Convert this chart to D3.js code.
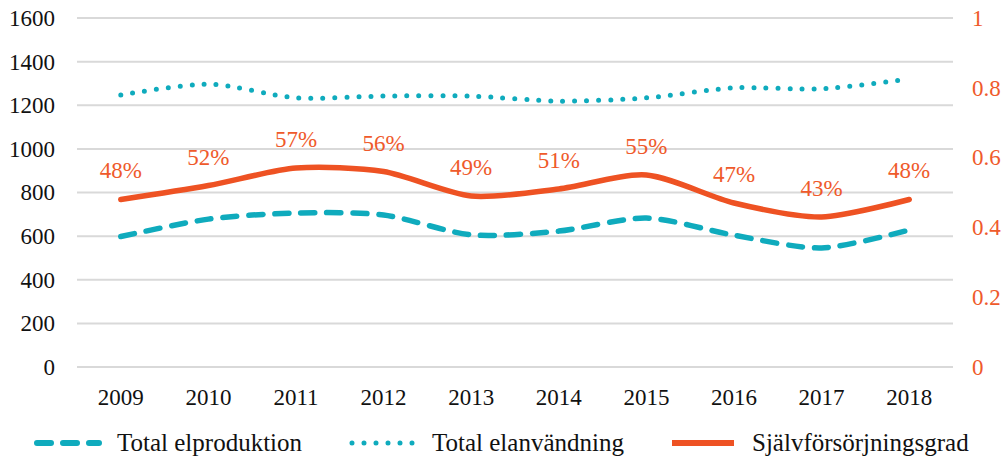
<!DOCTYPE html>
<html>
<head>
<meta charset="utf-8">
<script src="https://cdn.jsdelivr.net/npm/d3@7"></script>
</head>
<body style="margin:0">
<script>
// data
var years = ["2009", "2010", "2011", "2012", "2013", "2014", "2015", "2016", "2017", "2018"];
var elproduktion = [598, 678, 706, 697, 606, 623, 683, 604, 546, 628];
var elanvandning = [1247, 1297, 1234, 1242, 1242, 1219, 1234, 1280, 1275, 1320];
var sjalvforsorjning = [0.48, 0.52, 0.57, 0.56, 0.49, 0.51, 0.55, 0.47, 0.43, 0.48];
var leftTicks = [0, 200, 400, 600, 800, 1000, 1200, 1400, 1600];
var rightTicks = [0, 0.2, 0.4, 0.6, 0.8, 1];

var teal = "#0fabbd", orange = "#ee5223", labelOrange = "#ef5a2b";

var width = 1006, height = 456;
var margin = {top: 18, right: 53, bottom: 89, left: 77};
var w = width - margin.left - margin.right,
    h = height - margin.top - margin.bottom;

var svg = d3.select("body").append("svg")
    .attr("width", width)
    .attr("height", height);
var g = svg.append("g")
    .attr("transform", "translate(" + margin.left + "," + margin.top + ")");

var x = d3.scaleBand().domain(years).range([0, w]);
var y = d3.scaleLinear().domain([0, 1600]).range([h, 0]);
var y2 = d3.scaleLinear().domain([0, 1]).range([h, 0]);
var cx = function(d, i) { return x(years[i]) + x.bandwidth() / 2; };

// gridlines
g.selectAll(".grid").data(leftTicks).enter().append("line")
    .attr("x1", 0).attr("x2", w)
    .attr("y1", function(d) { return y(d); })
    .attr("y2", function(d) { return y(d); })
    .attr("stroke", "#d9d9d9")
    .attr("stroke-width", 2);

// left axis
var yAxis = d3.axisLeft(y).tickValues(leftTicks).tickSize(0).tickPadding(22)
    .tickFormat(function(d) { return String(d); });
var gy = g.append("g").call(yAxis);
gy.select(".domain").remove();
gy.selectAll("text").attr("fill", "#111");

// right axis
var yAxis2 = d3.axisRight(y2).tickValues(rightTicks).tickSize(0).tickPadding(19)
    .tickFormat(function(d) { return String(d); });
var gy2 = g.append("g").attr("transform", "translate(" + w + ",0)").call(yAxis2);
gy2.select(".domain").remove();
gy2.selectAll("text").attr("fill", labelOrange);

// x axis
var xAxis = d3.axisBottom(x).tickSize(0).tickPadding(22);
var gx = g.append("g").attr("transform", "translate(0," + h + ")").call(xAxis);
gx.select(".domain").remove();
gx.selectAll("text").attr("fill", "#111");

var curve = d3.curveCardinal.tension(0.2);

var lineLeft = d3.line().x(cx).y(function(d) { return y(d); }).curve(curve);
var lineRight = d3.line().x(cx).y(function(d) { return y2(d); }).curve(curve);

g.append("path")
    .attr("d", lineLeft(elanvandning))
    .attr("fill", "none")
    .attr("stroke", teal)
    .attr("stroke-width", 5)
    .attr("stroke-linecap", "round")
    .attr("stroke-dasharray", "0,12");

g.append("path")
    .attr("d", lineLeft(elproduktion))
    .attr("fill", "none")
    .attr("stroke", teal)
    .attr("stroke-width", 5.5)
    .attr("stroke-linecap", "round")
    .attr("stroke-dasharray", "14,12");

g.append("path")
    .attr("d", lineRight(sjalvforsorjning))
    .attr("fill", "none")
    .attr("stroke", orange)
    .attr("stroke-width", 5.5)
    .attr("stroke-linecap", "round");

// data labels
g.selectAll(".lbl").data(sjalvforsorjning).enter().append("text")
    .attr("x", cx)
    .attr("y", function(d) { return y2(d) - 21; })
    .attr("text-anchor", "middle")
    .attr("fill", labelOrange)
    .text(function(d) { return Math.round(d * 100) + "%"; });

// legend
var legend = [
    {label: "Total elproduktion", x: 35, dash: "14,12", color: teal, cap: "round"},
    {label: "Total elanvändning", x: 350, dash: "0,12", color: teal, cap: "round"},
    {label: "Självförsörjningsgrad", x: 670, dash: null, color: orange, cap: "butt"}
];
var lg = svg.append("g").attr("transform", "translate(0,443)");
legend.forEach(function(d) {
    lg.append("line")
        .attr("x1", d.x + 2).attr("x2", d.x + 64)
        .attr("y1", 0).attr("y2", 0)
        .attr("stroke", d.color)
        .attr("stroke-width", d.dash === "0,12" ? 5 : 6)
        .attr("stroke-linecap", d.cap)
        .attr("stroke-dasharray", d.dash);
    lg.append("text")
        .attr("class", "legend")
        .attr("x", d.x + 82)
        .attr("y", 8)
        .attr("fill", "#111")
        .text(d.label);
});

// fonts last, same way as the font test that worked
svg.selectAll("text")
    .attr("font-size", function() { return this.getAttribute("class") === "legend" ? 25 : 23; })
    .style("font-family", function() { return "'Liberation Serif'"; });
</script>
</body>
</html>
